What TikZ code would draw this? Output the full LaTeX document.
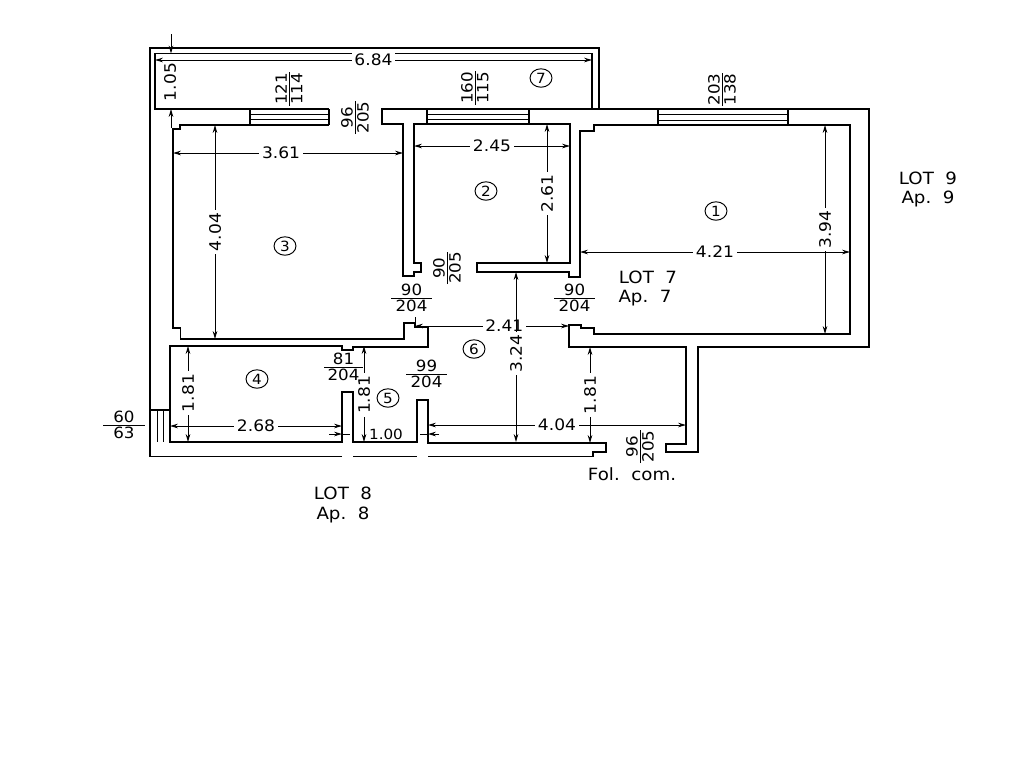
\documentclass[tikz,border=0pt]{standalone}
\usepackage{fontspec}
\setmainfont[FakeStretch=1.08]{DejaVu Sans}
\usetikzlibrary{arrows.meta,shapes.geometric}

\begin{document}
\begin{tikzpicture}[x=0.02cm,y=-0.02cm]

\tikzset{%
  wall/.style     = {line width=0.72pt,line join=miter},
  glazing/.style  = {line width=0.55pt},
  dimline/.style  = {line width=0.55pt,{Stealth[length=4.5pt,width=2.6pt]}-{Stealth[length=4.5pt,width=2.6pt]}},
  dimtick/.style  = {line width=0.55pt,-{Stealth[length=4.5pt,width=2.6pt]}},
  dimtext/.style  = {fill=white,inner sep=1.5pt,font=\fontsize{9}{10}\selectfont},
  vertext/.style  = {dimtext,sloped},
  fracline/.style = {line width=0.55pt},
  fractop/.style  = {sloped,above,inner sep=0.9pt,font=\fontsize{8.8}{10}\selectfont},
  fracbot/.style  = {sloped,below,inner sep=0.9pt,font=\fontsize{8.8}{10}\selectfont},
  roomno/.style   = {draw,ellipse,line width=0.55pt,inner sep=0pt,minimum width=12.5pt,minimum height=10.5pt,font=\fontsize{8}{9}\selectfont},
  lotname/.style  = {font=\fontsize{9.6}{11}\selectfont},
}

\useasboundingbox (0,0) rectangle (1024,768);

% Outer walls and rooms 1, 2
\draw[wall] (342,456.5) -- (150,456.5) -- (150,48) -- (599,48) -- (599,109) -- (382,109)
  -- (382,124) -- (403,124) -- (403,276) -- (414,276) -- (414,272) -- (421,272) -- (421,263)
  -- (414,263) -- (414,124) -- (570,124) -- (570,263) -- (477,263) -- (477,272) -- (569,272)
  -- (569,277) -- (580,277) -- (580,131) -- (594,131) -- (594,125) -- (850,125) -- (850,334)
  -- (594,334) -- (594,328) -- (581,328) -- (581,325) -- (569,325) -- (569,347) -- (686,347)
  -- (686,444) -- (666,444) -- (666,452) -- (698,452) -- (698,347) -- (869,347) -- (869,109)
  -- (599,109);

% Balcony
\draw[wall] (329,109) -- (155,109) -- (155,53.5) -- (592,53.5) -- (592,109);

% Room 3
\draw[wall] (329,125) -- (180,125) -- (180,129) -- (173,129) -- (173,328) -- (180.5,328)
  -- (180.5,339) -- (404,339) -- (404,323) -- (415,323) -- (415,327) -- (428,327) -- (428,347)
  -- (353,347) -- (353,350) -- (342,350) -- (342,346) -- (170,346) -- (170,442) -- (342,442)
  -- (342,392) -- (353,392) -- (353,442) -- (417,442) -- (417,400) -- (428,400) -- (428,443)
  -- (606,443) -- (606,452) -- (593,452) -- (593,456.5) -- (428,456.5);
\draw[wall] (353,456.5) -- (417,456.5);

% Windows
\draw[wall]    (250,109) -- (250,125);
\draw[wall]    (329,109) -- (329,125);
\draw[glazing] (250,114) -- (329,114);
\draw[glazing] (250,119) -- (329,119);
\draw[wall]    (427,109) -- (427,124);
\draw[wall]    (529,109) -- (529,124);
\draw[glazing] (427,114) -- (529,114);
\draw[glazing] (427,119) -- (529,119);
\draw[wall]    (658,109) -- (658,125);
\draw[wall]    (788,109) -- (788,125);
\draw[glazing] (658,114) -- (788,114);
\draw[glazing] (658,120) -- (788,120);
\draw[wall]    (150,410) -- (170,410);
\draw[glazing] (157,410) -- (157,442);
\draw[glazing] (163,410) -- (163,442);

% Horizontal dimensions
\draw[dimline] (155,60)  to node[dimtext]{6.84} (592,60);
\draw[dimline] (173,153) to node[dimtext,pos=.47]{3.61} (403,153);
\draw[dimline] (414,146) to node[dimtext]{2.45} (570,146);
\draw[dimline] (580,252) to node[dimtext]{4.21} (850,252);
\draw[dimline] (415,326) to node[dimtext,pos=.58]{2.41} (569,326);
\draw[dimline] (428,425) to node[dimtext]{4.04} (686,425);
\draw[dimline] (170,426) to node[dimtext]{2.68} (342,426);

% Vertical dimensions
\draw[dimline] (215,339) to node[vertext]{4.04} (215,125);
\draw[dimline] (547,263) to node[vertext]{2.61} (547,124);
\draw[dimline] (825,334) to node[vertext]{3.94} (825,125);
\draw[dimline] (516,442) to node[vertext,pos=.52]{3.24} (516,272);
\draw[dimline] (590,443) to node[vertext]{1.81} (590,347);
\draw[dimline] (364,442) to node[vertext,pos=.49]{1.81} (364,346);
\draw[dimline] (188,442) to node[vertext,pos=.51]{1.81} (188,346);

% 1.05 and 1.00 with arrows outside
\draw[dimtick] (171,34)  to (171,53.5);
\draw[dimtick] (171,128) to (171,109);
\node[rotate=90,dimtext,fill=none] (balconydepth) at (170,82) {1.05};
\draw[dimtick] (329,434) to (342,434);
\draw[fracline] (342,434) to (350,434);
\draw[dimtick] (439,434) to (428,434);
\draw[fracline] (428,434) to (420,434);
\node[dimtext,fill=none,font=\fontsize{8}{9}\selectfont] (doorwidth) at (386,434) {1.00};
\draw[fracline] (415,317) to (415,327);

% Openings
\draw[fracline] (289,106) to node[fractop]{121} node[fracbot]{114} (289,72);
\draw[fracline] (475,105) to node[fractop]{160} node[fracbot]{115} (475,71);
\draw[fracline] (722,106) to node[fractop]{203} node[fracbot]{138} (722,73);
\draw[fracline] (355,134) to node[fractop]{96}  node[fracbot]{205} (355,101);
\draw[fracline] (447,284) to node[fractop]{90}  node[fracbot]{205} (447,252);
\draw[fracline] (640,463) to node[fractop]{96}  node[fracbot]{205} (640,430);
\draw[fracline] (391,298) to node[fractop]{90}  node[fracbot]{204} (432,298);
\draw[fracline] (554,298) to node[fractop]{90}  node[fracbot]{204} (595,298);
\draw[fracline] (324,367) to node[fractop]{81}  node[fracbot]{204} (363,367);
\draw[fracline] (406,374) to node[fractop]{99}  node[fracbot]{204} (447,374);
\draw[fracline] (103,425) to node[fractop]{60}  node[fracbot]{63}  (145,425);

% Room numbers
\node[roomno] (room1) at (716,211) {1};
\node[roomno] (room2) at (486,191) {2};
\node[roomno] (room3) at (285,246) {3};
\node[roomno] (room4) at (257,379) {4};
\node[roomno] (room5) at (388,398) {5};
\node[roomno] (room6) at (474,349) {6};
\node[roomno] (room7) at (541,78)  {7};

% Lots
\node[lotname] (lot7) at (648,277) {LOT\ \ 7};
\node[lotname] (ap7)  at (645,298) {Ap.\ \ 7};
\node[lotname] (lot9) at (928,178) {LOT\ \ 9};
\node[lotname] (ap9)  at (928,199) {Ap.\ \ 9};
\node[lotname] (lot8) at (343,493) {LOT\ \ 8};
\node[lotname] (ap8)  at (343,515) {Ap.\ \ 8};
\node[lotname] (folcom) at (632,474) {Fol.\ \ com.};

\end{tikzpicture}
\end{document}
